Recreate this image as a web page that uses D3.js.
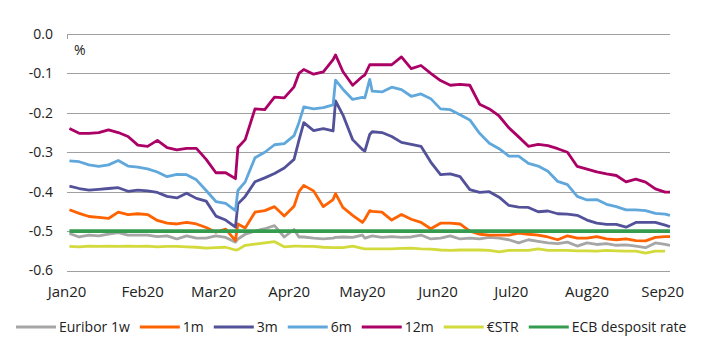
<!DOCTYPE html>
<html>
<head>
<meta charset="utf-8">
<script src="https://cdn.jsdelivr.net/npm/d3@7"></script>
<style>
  body { margin: 0; background: #fff; }
  svg { display: block; }
</style>
</head>
<body>
<div id="chart"></div>
<script>
// Money market rates, 2020 (%)
const dates = [
  "2020-01-02","2020-01-06","2020-01-10","2020-01-14","2020-01-18","2020-01-22","2020-01-26","2020-01-30",
  "2020-02-03","2020-02-07","2020-02-11","2020-02-15","2020-02-19","2020-02-23","2020-02-27",
  "2020-03-02","2020-03-06","2020-03-10","2020-03-11","2020-03-14","2020-03-18","2020-03-22","2020-03-26","2020-03-30",
  "2020-04-03","2020-04-05","2020-04-07","2020-04-11","2020-04-15","2020-04-19","2020-04-20","2020-04-23","2020-04-27",
  "2020-05-01","2020-05-02","2020-05-04","2020-05-05","2020-05-09","2020-05-13","2020-05-17","2020-05-21","2020-05-25","2020-05-29",
  "2020-06-02","2020-06-06","2020-06-10","2020-06-14","2020-06-18","2020-06-22","2020-06-26","2020-06-30",
  "2020-07-04","2020-07-08","2020-07-12","2020-07-16","2020-07-20","2020-07-24","2020-07-28",
  "2020-08-01","2020-08-05","2020-08-09","2020-08-13","2020-08-17","2020-08-21","2020-08-25","2020-08-29",
  "2020-09-02","2020-09-04"
];

const euribor1w = [-0.506,-0.515,-0.510,-0.512,-0.508,-0.504,-0.510,-0.510,-0.510,-0.514,-0.512,-0.520,-0.512,-0.518,-0.518,-0.512,-0.516,-0.528,
  -0.520,-0.508,-0.500,-0.494,-0.486,-0.515,-0.496,-0.515,-0.515,-0.518,-0.520,-0.518,-0.516,-0.515,-0.516,-0.510,-0.518,-0.514,-0.512,
  -0.516,-0.514,-0.516,-0.515,-0.510,-0.520,-0.518,-0.512,-0.520,-0.518,-0.520,-0.516,-0.518,-0.522,-0.530,-0.522,-0.526,-0.530,-0.532,
  -0.528,-0.538,-0.530,-0.534,-0.532,-0.536,-0.535,-0.538,-0.542,-0.530,-0.534,-0.536];

const euribor1m = [-0.446,-0.455,-0.463,-0.465,-0.468,-0.452,-0.458,-0.456,-0.458,-0.473,-0.480,-0.482,-0.478,-0.482,-0.491,-0.503,-0.495,-0.524,
  -0.482,-0.492,-0.452,-0.448,-0.438,-0.462,-0.437,-0.400,-0.384,-0.398,-0.438,-0.420,-0.405,-0.440,-0.460,-0.478,-0.470,-0.448,-0.450,
  -0.452,-0.472,-0.458,-0.470,-0.478,-0.494,-0.480,-0.480,-0.482,-0.500,-0.508,-0.510,-0.510,-0.510,-0.505,-0.508,-0.510,-0.515,-0.522,
  -0.512,-0.518,-0.518,-0.514,-0.520,-0.522,-0.520,-0.524,-0.525,-0.516,-0.514,-0.514];

const euribor3m = [-0.386,-0.392,-0.396,-0.394,-0.392,-0.390,-0.399,-0.396,-0.398,-0.402,-0.412,-0.416,-0.404,-0.417,-0.424,-0.462,-0.472,-0.490,
  -0.431,-0.412,-0.375,-0.365,-0.354,-0.340,-0.318,-0.270,-0.225,-0.245,-0.240,-0.246,-0.170,-0.205,-0.268,-0.293,-0.297,-0.255,-0.248,
  -0.250,-0.260,-0.275,-0.280,-0.285,-0.325,-0.357,-0.355,-0.362,-0.395,-0.402,-0.400,-0.414,-0.435,-0.439,-0.440,-0.451,-0.449,-0.456,
  -0.457,-0.460,-0.472,-0.480,-0.483,-0.483,-0.490,-0.478,-0.478,-0.478,-0.485,-0.489];

const euribor6m = [-0.322,-0.324,-0.332,-0.336,-0.332,-0.321,-0.335,-0.338,-0.342,-0.350,-0.362,-0.356,-0.357,-0.370,-0.397,-0.425,-0.430,-0.448,
  -0.397,-0.375,-0.314,-0.300,-0.281,-0.278,-0.258,-0.225,-0.185,-0.190,-0.187,-0.180,-0.117,-0.140,-0.166,-0.161,-0.162,-0.115,-0.145,
  -0.147,-0.135,-0.141,-0.158,-0.152,-0.164,-0.190,-0.192,-0.205,-0.218,-0.252,-0.277,-0.291,-0.310,-0.310,-0.328,-0.335,-0.348,-0.374,
  -0.382,-0.412,-0.421,-0.420,-0.432,-0.438,-0.446,-0.446,-0.448,-0.455,-0.457,-0.460];

const euribor12m = [-0.240,-0.252,-0.252,-0.250,-0.243,-0.250,-0.260,-0.282,-0.285,-0.270,-0.288,-0.294,-0.290,-0.290,-0.318,-0.352,-0.352,-0.367,
  -0.288,-0.268,-0.190,-0.192,-0.160,-0.162,-0.134,-0.100,-0.090,-0.102,-0.096,-0.065,-0.053,-0.095,-0.130,-0.108,-0.104,-0.078,-0.078,
  -0.078,-0.078,-0.058,-0.088,-0.080,-0.100,-0.118,-0.130,-0.128,-0.130,-0.178,-0.190,-0.208,-0.238,-0.261,-0.285,-0.280,-0.283,-0.291,
  -0.300,-0.336,-0.343,-0.350,-0.355,-0.359,-0.375,-0.368,-0.376,-0.393,-0.401,-0.401];

const estr = [-0.539,-0.540,-0.538,-0.539,-0.538,-0.539,-0.538,-0.539,-0.538,-0.540,-0.539,-0.539,-0.540,-0.541,-0.543,-0.542,-0.541,-0.548,
  -0.547,-0.536,-0.533,-0.530,-0.527,-0.540,-0.538,-0.538,-0.539,-0.539,-0.541,-0.542,-0.542,-0.542,-0.538,-0.544,-0.545,-0.545,-0.545,
  -0.545,-0.545,-0.544,-0.543,-0.545,-0.546,-0.548,-0.549,-0.548,-0.548,-0.548,-0.549,-0.553,-0.549,-0.549,-0.549,-0.545,-0.549,-0.549,
  -0.549,-0.550,-0.550,-0.551,-0.549,-0.550,-0.551,-0.551,-0.556,-0.551,-0.551];

const ecbDates = ["2020-01-02", "2020-09-04"];
const ecbRate = [-0.5, -0.5];

const yTicks = [0, -0.1, -0.2, -0.3, -0.4, -0.5, -0.6];
const monthTicks = ["2020-01-01","2020-02-01","2020-03-01","2020-04-01","2020-05-01","2020-06-01","2020-07-01","2020-08-01","2020-09-01"];
const monthLabels = ["Jan20","Feb20","Mar20","Apr20","May20","Jun20","Jul20","Aug20","Sep20"];

const width = 709;
const height = 353;
const font = "'Open Sans', sans-serif";

const parse = d3.timeParse("%Y-%m-%d");

const series = [
  { name: "Euribor 1w", color: "#a6a6a6", w: 2.8, dates: dates, values: euribor1w },
  { name: "1m", color: "#ff6200", w: 2.8, dates: dates, values: euribor1m },
  { name: "3m", color: "#525199", w: 2.8, dates: dates, values: euribor3m },
  { name: "6m", color: "#60a8dc", w: 2.8, dates: dates, values: euribor6m },
  { name: "12m", color: "#ab0066", w: 2.8, dates: dates, values: euribor12m },
  { name: "€STR", color: "#d2da3c", w: 2.8, dates: dates, values: estr },
  { name: "ECB desposit rate", color: "#349b4f", w: 3.6, dates: ecbDates, values: ecbRate }
];

const x = d3.scaleTime()
  .domain([parse("2020-01-01"), parse("2020-09-04")])
  .range([67, 670]);

const y = d3.scaleLinear()
  .domain([-0.6, 0])
  .range([270.5, 34]);

const svg = d3.select("#chart")
  .append("svg")
  .attr("width", width)
  .attr("height", height);

// gridlines
svg.append("g")
  .selectAll("line")
  .data(yTicks)
  .enter()
  .append("line")
  .attr("x1", 67)
  .attr("x2", 670)
  .attr("y1", d => Math.round(y(d)) + 0.5)
  .attr("y2", d => Math.round(y(d)) + 0.5)
  .attr("stroke", "#a0a0a0")
  .attr("stroke-width", 1);

svg.append("line")
  .attr("x1", 67.5).attr("x2", 67.5)
  .attr("y1", Math.round(y(0)) + 0.5)
  .attr("y2", Math.round(y(0)) + 5)
  .attr("stroke", "#a0a0a0");

// y labels
svg.append("g")
  .selectAll("text")
  .data(yTicks)
  .enter()
  .append("text")
  .attr("x", 53)
  .attr("y", d => y(d))
  .attr("dy", "0.35em")
  .attr("text-anchor", "end")
  .style("font-family", font)
  .style("font-size", "14px")
  .style("fill", "#222")
  .text(d => d3.format(".1f")(d).replace("−", "-"));

svg.append("text")
  .attr("x", 74)
  .attr("y", 55)
  .style("font-family", font)
  .style("font-size", "14px")
  .style("fill", "#222")
  .text("%");

// x labels
svg.append("g")
  .selectAll("text")
  .data(monthTicks)
  .enter()
  .append("text")
  .attr("x", d => x(parse(d)))
  .attr("y", 297)
  .attr("text-anchor", "middle")
  .style("font-family", font)
  .style("font-size", "15px")
  .style("fill", "#222")
  .text((d, i) => monthLabels[i]);

// lines
const line = d3.line()
  .x(d => x(d.date))
  .y(d => y(d.value));

series.forEach(s => {
  const pts = s.dates.map((d, i) => ({ date: parse(d), value: s.values[i] }));
  svg.append("path")
    .datum(pts)
    .attr("fill", "none")
    .attr("stroke", s.color)
    .attr("stroke-width", s.w)
    .attr("stroke-linejoin", "round")
    .attr("d", line);
});

// legend
let lx = 16;
const ly = 327;
series.forEach(s => {
  svg.append("line")
    .attr("x1", lx).attr("x2", lx + 40)
    .attr("y1", ly).attr("y2", ly)
    .attr("stroke", s.color)
    .attr("stroke-width", 3);
  const t = svg.append("text")
    .attr("x", lx + 43)
    .attr("y", ly + 5)
    .style("font-family", font)
    .style("font-size", "14px")
    .style("fill", "#222")
    .text(s.name);
  lx += 43 + t.node().getComputedTextLength() + 10;
});
</script>
</body>
</html>
